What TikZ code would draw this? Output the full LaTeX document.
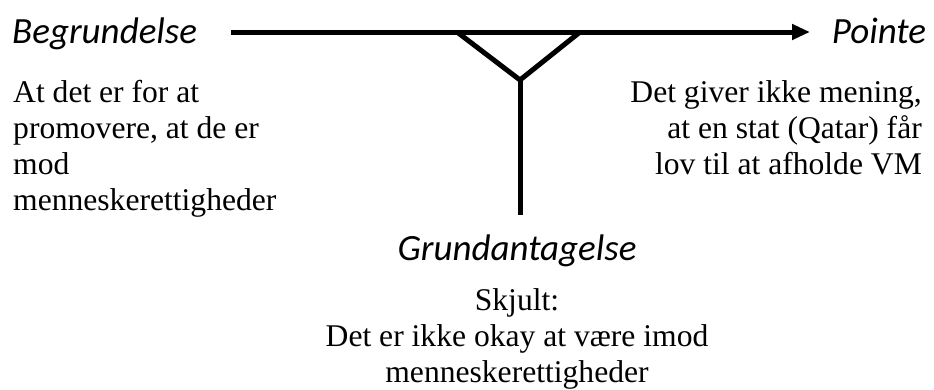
\documentclass[tikz,border=0pt]{standalone}
\usepackage{fontspec}
\setmainfont{Liberation Serif}
\newfontfamily\headfont{Carlito}
\usetikzlibrary{arrows.meta}
\tikzset{
  heading/.style={font=\headfont\itshape\fontsize{37}{44}\selectfont, inner sep=0pt},
  bodytext/.style={font=\fontsize{31.6}{36}\selectfont, inner sep=0pt},
  thickline/.style={line width=5pt, line join=round}
}
\begin{document}
\begin{tikzpicture}[x=1pt,y=-1pt]
\useasboundingbox (0,0) rectangle (934,389);
% coordinates
\coordinate (start) at (231,32);
\coordinate (tip) at (810,32);
\coordinate (tl) at (457,32);
\coordinate (tr) at (580,32);
\coordinate (apex) at (520,80);
\coordinate (foot) at (520,215);
% headings
\node[heading, anchor=base west] (begr) at (12,43) {Begrundelse};
\node[heading, anchor=base] (pointe) at (879,43) {Pointe};
\node[heading, anchor=base] (grund) at (517,260) {Grundantagelse};
% body texts
\node[bodytext, anchor=north west, align=left] (lefttext) at (13,80)
  {At det er for at\\promovere, at de er\\mod\\menneskerettigheder};
\node[bodytext, anchor=north east, align=right] (righttext) at (922,80)
  {Det giver ikke mening,\\at en stat (Qatar) får\\lov til at afholde VM};
\node[bodytext, anchor=north, align=center] (bottomtext) at (517,288)
  {Skjult:\\Det er ikke okay at være imod\\menneskerettigheder};
% connectors
\draw[thickline, -{Triangle[length=18pt,width=15pt]}] (start) -- (tip);
\draw[thickline] (tl) -- (apex) -- (tr);
\draw[thickline] (apex) -- (foot);
\end{tikzpicture}
\end{document}
